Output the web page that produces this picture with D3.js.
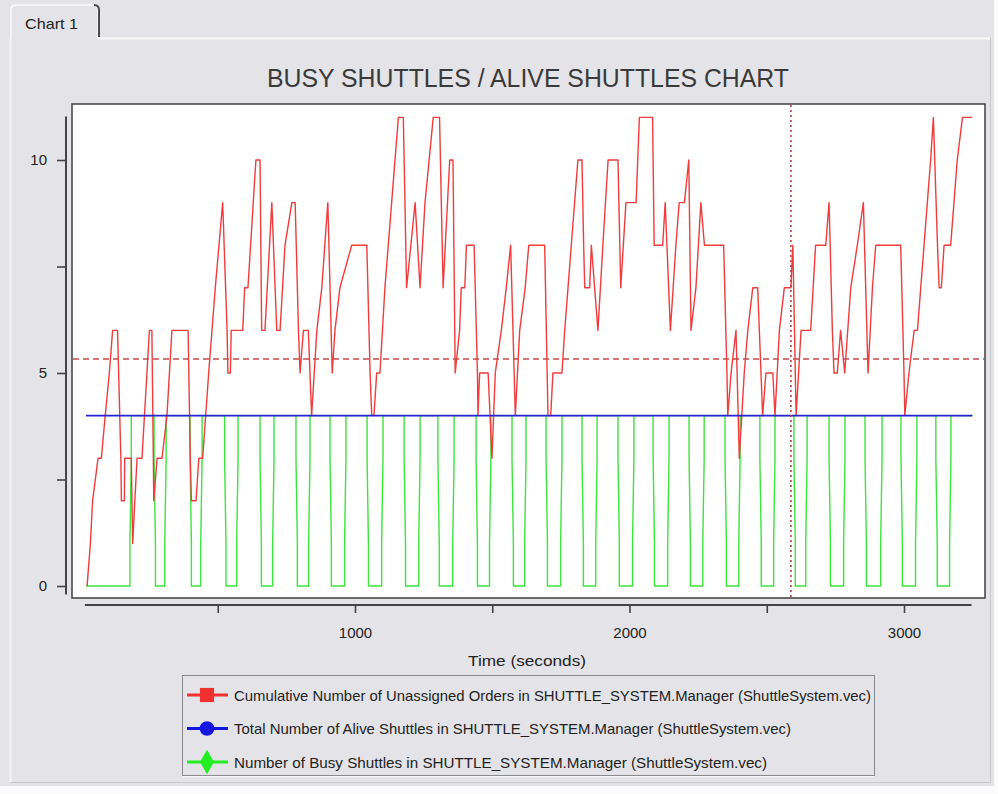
<!DOCTYPE html>
<html>
<head>
<meta charset="utf-8">
<script src="https://cdn.jsdelivr.net/npm/d3@7"></script>
<style>
  body { margin: 0; background: #fff; }
  svg { display: block; font-family: Arial, "Liberation Sans", sans-serif; }
</style>
</head>
<body>
<div id="chart"></div>
<script>
// cumulative number of unassigned orders (time in seconds, count)
const orderTimes = [24,36,44,64,76,90,105,117,135,139,147,149,160,161,185,190,206,224,242,251,260,267,279,297,315,333,340,392,400,404,421,431,445,467,491,518,534,537,546,549,591,598,610,639,654,
  660,672,697,715,727,745,770,782,794,800,812,830,842,861,879,901,917,927,945,988,1043,1055,1061,1069,1079,1091,1109,1158,1176,1188,1219,1237,1255,1285,1308,
  1321,1345,1357,1365,1381,1387,1400,1406,1434,1446,1448,1454,1485,1499,1511,1533,1551,1567,1584,1600,1620,1633,1691,1703,1713,1721,1754,1764,1788,1812,1827,1833,1837,1855,1861,1885,1903,1922,1958,1968,
  1987,2024,2036,2084,2090,2121,2130,2149,2169,2181,2200,2216,2224,2242,2260,2273,2343,2355,2358,2370,2388,2400,2418,2431,2449,2467,2485,2497,2522,2530,2546,2564,2588,2595,2607,2625,2636,
  2660,2678,2715,2727,2739,2745,2757,2769,2784,2806,2830,2852,2869,2885,2897,2988,3000,3003,3018,3037,3049,3073,3097,3107,3122,3128,3136,3146,3170,3194,3213,3249];
const orderCounts = [0,1,2,3,3,4,5,6,6,5,3,2,2,3,3,1,3,3,5,6,6,2,3,3,4,6,6,6,3,2,2,3,3,5,7,9,6,5,5,6,6,7,7,10,10,
  6,6,9,6,6,8,9,9,6,5,6,6,4,6,7,9,5,6,7,8,8,5,4,4,5,5,7,11,11,7,9,7,9,11,11,
  7,10,10,5,6,7,7,8,8,5,4,5,5,3,5,6,7,8,4,6,7,8,8,4,4,5,5,6,8,10,10,8,7,7,8,6,8,10,10,7,
  9,9,11,11,8,8,9,6,8,9,9,10,6,7,9,8,8,5,4,5,6,3,5,6,7,7,4,5,5,4,6,7,7,8,4,6,6,
  6,8,8,9,6,5,5,6,5,7,8,9,5,7,8,8,5,4,5,6,6,8,10,11,8,7,7,8,8,10,11,11];

// total number of alive shuttles
const aliveTimes = [20, 3249];
const aliveCounts = [4, 4];

// busy shuttles: all 4 busy except during these idle dips [drop time, recover time]
const busyIdleStart = [20, 180];            // initial idle period (0 busy)
const busyDips = [[268,312],[399,443],[525,574],[654,705],[785,836],[909,967],[1044,1102],[1179,1237],
  [1302,1361],[1441,1495],[1572,1623],[1696,1754],[1827,1882],[1958,2016],[2086,2144],[2217,2272],
  [2348,2403],[2475,2530],[2599,2647],[2727,2785],[2858,2920],[2989,3047],[3116,3171]];
const busyEdge = 5;                          // seconds taken by the 3 -> 1 transition
const busyEnd = 3249;

const meanOrders = 5.33;
const cursorTime = 2588;

const xTicks = [500, 1000, 1500, 2000, 2500, 3000];
const yTicks = [0, 2.5, 5, 7.5, 10];

const legendLabels = [
  "Cumulative Number of Unassigned Orders in SHUTTLE_SYSTEM.Manager (ShuttleSystem.vec)",
  "Total Number of Alive Shuttles in SHUTTLE_SYSTEM.Manager (ShuttleSystem.vec)",
  "Number of Busy Shuttles in SHUTTLE_SYSTEM.Manager (ShuttleSystem.vec)"
];
const legendColors = ["#f23030", "#1515e0", "#22ee22"];
const legendSymbols = [d3.symbolSquare, d3.symbolCircle, d3.symbolDiamond];
const legendWidths = [637, 557, 533];

const W = 998, H = 794;
const svg = d3.select("#chart").append("svg").attr("width", W).attr("height", H);

// window background
svg.append("rect").attr("width", W).attr("height", H).attr("fill", "#fbfbfc");
svg.append("rect").attr("x", 0).attr("y", 0).attr("width", 994).attr("height", 786).attr("fill", "#e4e4e8");
// panel edges
svg.append("line").attr("x1", 99).attr("x2", 990).attr("y1", 38.5).attr("y2", 38.5).attr("stroke", "#fafafa").attr("stroke-width", 2);
svg.append("line").attr("x1", 10.5).attr("x2", 10.5).attr("y1", 38).attr("y2", 782).attr("stroke", "#f4f4f6").attr("stroke-width", 2);
svg.append("line").attr("x1", 990.5).attr("x2", 990.5).attr("y1", 38).attr("y2", 782).attr("stroke", "#c8c8cc").attr("stroke-width", 1);
svg.append("line").attr("x1", 10).attr("x2", 991).attr("y1", 782.5).attr("y2", 782.5).attr("stroke", "#c8c8cc").attr("stroke-width", 1);

// tab
svg.append("path")
  .attr("d", "M11,39 L11,10 Q11,5 16,5 L93,5 Q98,5 98,10 L98,39")
  .attr("fill", "#e4e4e8").attr("stroke", "#fafafa").attr("stroke-width", 1.5);
svg.append("path")
  .attr("d", "M94,5 Q99,5 99,10 L99,37")
  .attr("fill", "none").attr("stroke", "#4a4a4a").attr("stroke-width", 2);
svg.append("text").attr("x", 25).attr("y", 29).attr("font-size", 15)
  .attr("textLength", 53).attr("lengthAdjust", "spacingAndGlyphs")
  .attr("fill", "#222").text("Chart 1");

// title
svg.append("text").attr("x", 528).attr("y", 87).attr("text-anchor", "middle")
  .attr("font-size", 26).attr("fill", "#3a3a3a")
  .attr("textLength", 522).attr("lengthAdjust", "spacingAndGlyphs")
  .text("BUSY SHUTTLES / ALIVE SHUTTLES CHART");

// scales
const x = d3.scaleLinear().domain([0, 3000]).range([80.5, 904]);
const y = d3.scaleLinear().domain([0, 10]).range([586, 160]);

// plot frame
const frame = { x: 72, y: 104, w: 913, h: 494 };
svg.append("rect").attr("x", frame.x).attr("y", frame.y).attr("width", frame.w).attr("height", frame.h)
  .attr("fill", "#fff").attr("stroke", "#4a4a4a").attr("stroke-width", 1.6);

const plot = svg.append("g");
const line = d3.line().x(d => x(d[0])).y(d => y(d[1]));

// busy shuttles series
const busyPts = [[busyIdleStart[0], 0], [busyIdleStart[1], 0], [busyIdleStart[1], 1],
  [busyIdleStart[1] + busyEdge, 3], [busyIdleStart[1] + busyEdge, 4]];
busyDips.forEach(([a, b]) => {
  busyPts.push([a, 4], [a, 3], [a + busyEdge, 1], [a + busyEdge, 0],
               [b - busyEdge, 0], [b - busyEdge, 1], [b, 3], [b, 4]);
});
busyPts.push([busyEnd, 4]);

plot.append("path").datum(busyPts).attr("d", line)
  .attr("fill", "none").attr("stroke", "#3ce43c").attr("stroke-width", 1.4);

const orders = orderTimes.map((t, i) => [t, orderCounts[i]]);
plot.append("path").datum(orders).attr("d", line)
  .attr("fill", "none").attr("stroke", "#f03c3c").attr("stroke-width", 1.4)
  .attr("stroke-linejoin", "round");

const alive = aliveTimes.map((t, i) => [t, aliveCounts[i]]);
plot.append("path").datum(alive).attr("d", line)
  .attr("fill", "none").attr("stroke", "#2424d0").attr("stroke-width", 1.7);

// mean and cursor markers
plot.append("line").attr("x1", frame.x + 1).attr("x2", frame.x + frame.w - 1)
  .attr("y1", y(meanOrders)).attr("y2", y(meanOrders))
  .attr("stroke", "#c84848").attr("stroke-width", 1.4).attr("stroke-dasharray", "6,4");
plot.append("line").attr("x1", x(cursorTime)).attr("x2", x(cursorTime))
  .attr("y1", frame.y + 1).attr("y2", frame.y + frame.h + 2)
  .attr("stroke", "#b84040").attr("stroke-width", 1.6).attr("stroke-dasharray", "2,3");

// axes
const yAxis = d3.axisLeft(y).tickValues(yTicks)
  .tickFormat(d => d % 5 === 0 ? d : "").tickSize(9).tickPadding(10);
const gy = svg.append("g").attr("transform", "translate(66,0)").call(yAxis);
gy.select(".domain").remove();
gy.append("line").attr("x1", 0).attr("x2", 0).attr("y1", y(11.02)).attr("y2", y(-0.2))
  .attr("stroke", "#444").attr("stroke-width", 2);

const xAxis = d3.axisBottom(x).tickValues(xTicks)
  .tickFormat(d => d % 1000 === 0 ? d : "").tickSize(8).tickPadding(14);
const gx = svg.append("g").attr("transform", "translate(0,605)").call(xAxis);
gx.select(".domain").remove();
gx.append("line").attr("x1", x(16)).attr("x2", x(3246)).attr("y1", 0).attr("y2", 0)
  .attr("stroke", "#444").attr("stroke-width", 2);

[gx, gy].forEach(g => {
  g.selectAll(".tick line").attr("stroke", "#444").attr("stroke-width", 1.6);
  g.selectAll(".tick text").attr("font-size", 15).attr("fill", "#222")
    .attr("font-family", "Arial, 'Liberation Sans', sans-serif");
});

svg.append("text").attr("x", 527).attr("y", 666).attr("text-anchor", "middle")
  .attr("font-size", 15).attr("fill", "#222")
  .attr("textLength", 118).attr("lengthAdjust", "spacingAndGlyphs")
  .text("Time (seconds)");

// legend
const legend = svg.append("g");
legend.append("rect").attr("x", 182.5).attr("y", 675.5).attr("width", 692).attr("height", 100)
  .attr("fill", "#e4e4e8").attr("stroke", "#8a8a8e").attr("stroke-width", 1);
legend.append("line").attr("x1", 183).attr("x2", 874).attr("y1", 776.5).attr("y2", 776.5)
  .attr("stroke", "#fafafa");

const rows = legend.selectAll(".row").data(legendLabels).enter().append("g")
  .attr("transform", (d, i) => `translate(0,${695 + i * 33.5})`);
rows.append("line").attr("x1", 187).attr("x2", 228).attr("y1", 0).attr("y2", 0)
  .attr("stroke", (d, i) => legendColors[i]).attr("stroke-width", 3);
rows.append("path")
  .attr("d", (d, i) => d3.symbol().type(legendSymbols[i]).size(i === 0 ? 200 : 170)())
  .attr("transform", "translate(207,0)")
  .attr("fill", (d, i) => legendColors[i]);
rows.append("text").attr("x", 234).attr("y", 5.5).attr("font-size", 15).attr("fill", "#222")
  .attr("textLength", (d, i) => legendWidths[i]).attr("lengthAdjust", "spacingAndGlyphs")
  .text(d => d);
</script>
</body>
</html>
